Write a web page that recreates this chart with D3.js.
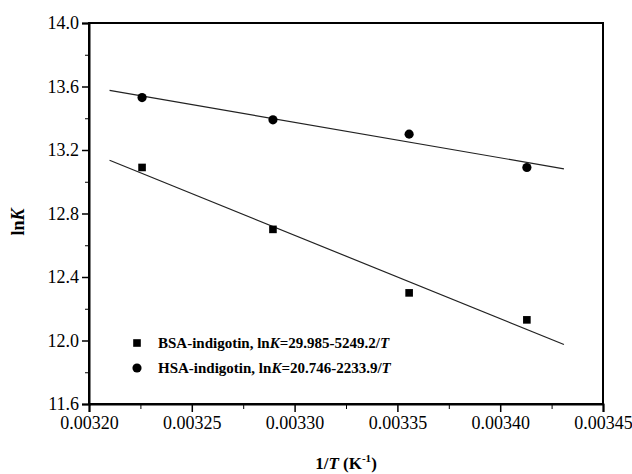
<!DOCTYPE html>
<html>
<head>
<meta charset="utf-8">
<script src="https://cdn.jsdelivr.net/npm/d3@7"></script>
<style>
  body { margin: 0; background: #fff; }
  svg { display: block; font-family: "Liberation Serif", "Times New Roman", serif; }
  svg text { font-family: "Liberation Serif", "Times New Roman", serif; }
</style>
</head>
<body>
<div class="chart"></div>
<script>
// 1/T values (K^-1) for the four temperatures
var invT = [1 / 310, 1 / 304, 1 / 298, 1 / 293];
var bsaLnK = [13.09, 12.70, 12.30, 12.13];
var hsaLnK = [13.53, 13.39, 13.30, 13.09];

// fitted lines: lnK = a - b/T
var bsaFit = [29.985, 5249.2];
var hsaFit = [20.746, 2233.9];
var fitRange = [0.00321, 0.003431];

var xTicks = [0.00320, 0.00325, 0.00330, 0.00335, 0.00340, 0.00345];
var yTicks = [11.6, 12.0, 12.4, 12.8, 13.2, 13.6, 14.0];

var width = 632;
var height = 474;
var plotLeft = 89, plotRight = 603, plotTop = 23, plotBottom = 404;

var x = d3.scaleLinear().domain([0.00320, 0.00345]).range([plotLeft, plotRight]);
var y = d3.scaleLinear().domain([11.6, 14.0]).range([plotBottom, plotTop]);

var svg = d3
  .select(".chart")
  .append("svg")
  .attr("width", width)
  .attr("height", height);

// frame
svg.append("rect")
  .attr("x", plotLeft)
  .attr("y", plotTop)
  .attr("width", plotRight - plotLeft)
  .attr("height", plotBottom - plotTop)
  .attr("fill", "none")
  .attr("stroke", "#000")
  .attr("stroke-width", 2);

// minor ticks
var xMinor = d3.range(0, 5).map(function(i) { return 0.003225 + i * 0.00005; });
var yMinor = d3.range(0, 6).map(function(i) { return 11.8 + i * 0.4; });

svg.append("g")
  .attr("transform", "translate(0," + plotBottom + ")")
  .call(d3.axisBottom(x).tickValues(xMinor).tickSize(5).tickFormat(""))
  .call(function(g) { g.select(".domain").remove(); });

svg.append("g")
  .attr("transform", "translate(" + plotLeft + ",0)")
  .call(d3.axisLeft(y).tickValues(yMinor).tickSize(4).tickFormat(""))
  .call(function(g) { g.select(".domain").remove(); });

// major axes
var xAxis = svg.append("g")
  .attr("transform", "translate(0," + plotBottom + ")")
  .call(d3.axisBottom(x).tickValues(xTicks).tickSize(8).tickPadding(4).tickFormat(d3.format(".5f")));

var yAxis = svg.append("g")
  .attr("transform", "translate(" + plotLeft + ",0)")
  .call(d3.axisLeft(y).tickValues(yTicks).tickSize(7).tickPadding(3).tickFormat(d3.format(".1f")));

[xAxis, yAxis].forEach(function(g) {
  g.attr("font-family", null).attr("font-size", null);
  g.select(".domain").attr("stroke-width", 2);
  g.selectAll(".tick line").attr("stroke-width", 1.5);
  g.selectAll("text")
    .style("font-family", "'Liberation Serif', serif")
    .style("font-size", "18px")
    .attr("fill", "#000");
});
svg.selectAll(".tick line").attr("stroke", "#000");

// fit lines
function fitLine(fit) {
  return fitRange.map(function(t) { return [t, fit[0] - fit[1] * t]; });
}
var line = d3.line()
  .x(function(d) { return x(d[0]); })
  .y(function(d) { return y(d[1]); });

[bsaFit, hsaFit].forEach(function(fit) {
  svg.append("path")
    .attr("d", line(fitLine(fit)))
    .attr("fill", "none")
    .attr("stroke", "#222")
    .attr("stroke-width", 1.2);
});

// points
var square = d3.symbol().type(d3.symbolSquare).size(58);
var circle = d3.symbol().type(d3.symbolCircle).size(66);

svg.selectAll(".bsa")
  .data(invT)
  .enter()
  .append("path")
  .attr("class", "bsa")
  .attr("d", square)
  .attr("transform", function(d, i) { return "translate(" + x(d) + "," + y(bsaLnK[i]) + ")"; })
  .attr("fill", "#000");

svg.selectAll(".hsa")
  .data(invT)
  .enter()
  .append("path")
  .attr("class", "hsa")
  .attr("d", circle)
  .attr("transform", function(d, i) { return "translate(" + x(d) + "," + y(hsaLnK[i]) + ")"; })
  .attr("fill", "#000");

// legend
var legend = svg.append("g").attr("font-weight", "bold").attr("font-size", 15);

legend.append("path").attr("d", square).attr("transform", "translate(137,343)");
legend.append("path").attr("d", circle).attr("transform", "translate(137,368)");

var l1 = legend.append("text").attr("x", 158).attr("y", 348);
l1.append("tspan").text("BSA-indigotin, ln");
l1.append("tspan").attr("font-style", "italic").text("K");
l1.append("tspan").text("=29.985-5249.2/");
l1.append("tspan").attr("font-style", "italic").text("T");

var l2 = legend.append("text").attr("x", 158).attr("y", 373);
l2.append("tspan").text("HSA-indigotin, ln");
l2.append("tspan").attr("font-style", "italic").text("K");
l2.append("tspan").text("=20.746-2233.9/");
l2.append("tspan").attr("font-style", "italic").text("T");

// axis titles
var xt = svg.append("text")
  .attr("x", (plotLeft + plotRight) / 2)
  .attr("y", 469)
  .attr("text-anchor", "middle")
  .attr("font-weight", "bold")
  .attr("font-size", 17);
xt.append("tspan").text("1/");
xt.append("tspan").attr("font-style", "italic").text("T");
xt.append("tspan").text(" (K");
xt.append("tspan").attr("font-size", 11).attr("dy", -7).text("-1");
xt.append("tspan").attr("dy", 7).text(")");

var yt = svg.append("text")
  .attr("transform", "translate(24,222) rotate(-90)")
  .attr("text-anchor", "middle")
  .attr("font-weight", "bold")
  .attr("font-size", 18);
yt.append("tspan").text("ln");
yt.append("tspan").attr("font-style", "italic").text("K");
</script>
</body>
</html>
